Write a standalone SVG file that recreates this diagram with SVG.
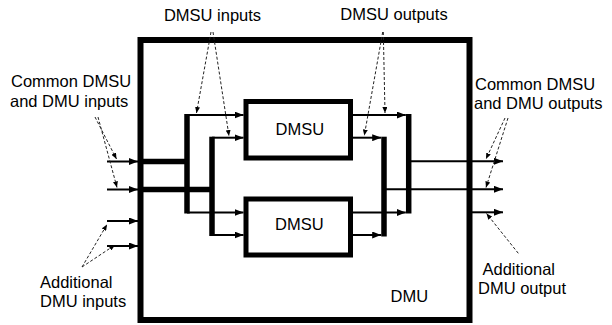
<svg xmlns="http://www.w3.org/2000/svg" width="612" height="325" viewBox="0 0 612 325">
<style>
text{font-family:"Liberation Sans",Arial,sans-serif;font-size:16.5px;fill:#000}
.box{fill:none;stroke:#000}
.thin{stroke:#000;stroke-width:2;fill:none}
.bus{stroke:#000;stroke-width:5.5;fill:none}
.dash{stroke:#222;stroke-width:1;stroke-dasharray:3 2;fill:none}
</style>
<defs>
<marker id="ah" markerWidth="9" markerHeight="7" refX="9" refY="3.5" orient="auto" markerUnits="userSpaceOnUse"><path d="M0,0 L9,3.5 L0,7 z" fill="#000"/></marker>
<marker id="dh" markerWidth="6" markerHeight="5" refX="6" refY="2.5" orient="auto" markerUnits="userSpaceOnUse"><path d="M0,0 L6,2.5 L0,5 z" fill="#000"/></marker>
</defs>
<rect fill="#fff" width="612" height="325"/>
<g id="dmu">
<rect class="box" x="140.5" y="40" width="329" height="280" stroke-width="6"/>
<text x="390.5" y="301.5">DMU</text>
</g>
<g id="dmsu1">
<rect class="box" x="246" y="101.5" width="104.5" height="56.5" stroke-width="5"/>
<text x="275.5" y="135">DMSU</text>
</g>
<g id="dmsu2">
<rect class="box" x="246" y="199" width="104.5" height="56" stroke-width="5"/>
<text x="275" y="230">DMSU</text>
</g>
<g id="connectors">
<line class="thin" x1="107" y1="161.5" x2="138" y2="161.5" marker-end="url(#ah)"/>
<line class="thin" x1="107" y1="189.5" x2="138" y2="189.5" marker-end="url(#ah)"/>
<line class="thin" x1="107" y1="221" x2="138" y2="221" marker-end="url(#ah)"/>
<line class="thin" x1="107" y1="246" x2="138" y2="246" marker-end="url(#ah)"/>
<line class="bus" x1="143" y1="161.5" x2="189" y2="161.5"/>
<line class="bus" x1="143" y1="189.5" x2="214" y2="189.5"/>
<line class="bus" x1="187" y1="114" x2="187" y2="213.5"/>
<line class="bus" x1="212" y1="136.7" x2="212" y2="236"/>
<line class="thin" x1="187" y1="115" x2="243.5" y2="115" marker-end="url(#ah)"/>
<line class="thin" x1="187" y1="212.5" x2="243.5" y2="212.5" marker-end="url(#ah)"/>
<line class="thin" x1="212" y1="137.7" x2="243.5" y2="137.7" marker-end="url(#ah)"/>
<line class="thin" x1="212" y1="235" x2="243.5" y2="235" marker-end="url(#ah)"/>
<line class="thin" x1="353" y1="115" x2="405.8" y2="115" marker-end="url(#ah)"/>
<line class="thin" x1="353" y1="212.5" x2="405.8" y2="212.5" marker-end="url(#ah)"/>
<line class="thin" x1="353" y1="137.7" x2="381.2" y2="137.7" marker-end="url(#ah)"/>
<line class="thin" x1="353" y1="235" x2="381.2" y2="235" marker-end="url(#ah)"/>
<line class="bus" x1="408.7" y1="114" x2="408.7" y2="213.5"/>
<line class="bus" x1="384" y1="136.7" x2="384" y2="236.5"/>
<line class="thin" x1="408.7" y1="161.3" x2="503" y2="161.3" marker-end="url(#ah)"/>
<line class="thin" x1="384" y1="189.3" x2="503" y2="189.3" marker-end="url(#ah)"/>
<line class="thin" x1="472" y1="212.3" x2="503" y2="212.3" marker-end="url(#ah)"/>
<line class="dash" x1="211" y1="32" x2="196.5" y2="113" marker-end="url(#dh)"/>
<line class="dash" x1="213" y1="32" x2="229" y2="136" marker-end="url(#dh)"/>
<line class="dash" x1="382.7" y1="32" x2="364.3" y2="135.5" marker-end="url(#dh)"/>
<line class="dash" x1="383.3" y1="32" x2="385" y2="113" marker-end="url(#dh)"/>
<line class="dash" x1="95" y1="117" x2="116.5" y2="159" marker-end="url(#dh)"/>
<line class="dash" x1="98" y1="117" x2="117" y2="187.5" marker-end="url(#dh)"/>
<line class="dash" x1="82" y1="267" x2="107" y2="224.5" marker-end="url(#dh)"/>
<line class="dash" x1="82" y1="267" x2="115" y2="245" marker-end="url(#dh)"/>
<line class="dash" x1="505" y1="118" x2="486" y2="159" marker-end="url(#dh)"/>
<line class="dash" x1="508" y1="118" x2="486" y2="187.5" marker-end="url(#dh)"/>
<line class="dash" x1="518.3" y1="253.3" x2="486.5" y2="213.5" marker-end="url(#dh)"/>
</g>
<g id="labels">
<text x="212.5" y="21" text-anchor="middle">DMSU inputs</text>
<text x="394" y="20" text-anchor="middle">DMSU outputs</text>
<text x="11" y="87.3">Common DMSU</text>
<text x="10" y="106.8">and DMU inputs</text>
<text x="40" y="287.7">Additional</text>
<text x="40" y="306.7">DMU inputs</text>
<text x="475" y="89.5">Common DMSU</text>
<text x="474" y="108.5">and DMU outputs</text>
<text x="482.5" y="275">Additional</text>
<text x="478" y="294">DMU output</text>
</g>
</svg>
